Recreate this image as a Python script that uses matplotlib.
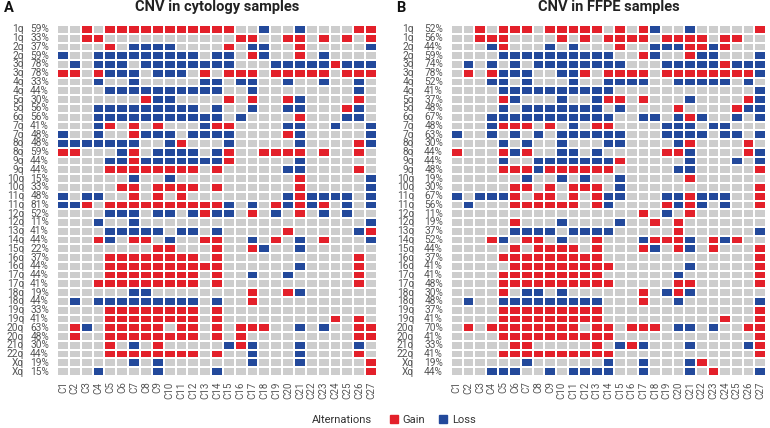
import matplotlib
matplotlib.use('Agg')
import matplotlib.pyplot as plt
import numpy as np
from matplotlib.colors import ListedColormap
from matplotlib.lines import Line2D
import matplotlib.transforms as mtransforms

plt.rcParams['font.family'] = ['Roboto', 'DejaVu Sans']

row_labels = ['1q', '1q', '2q', '2q', '3q', '3q', '4q', '4q', '5q', '5q', '6q', '7q', '7q',
              '8q', '8q', '9q', '9q', '10q', '10q', '11q', '11q', '12q', '12q', '13q', '14q',
              '15q', '16q', '16q', '17q', '17q', '18q', '18q', '19q', '19q', '20q', '20q',
              '21q', '22q', 'Xq', 'Xq']
col_labels = [f'C{i}' for i in range(1, 28)]

pct_cytology = [59, 33, 37, 59, 78, 78, 33, 44, 30, 56, 56, 41, 48, 48, 59, 44, 44, 15, 33, 48,
                81, 52, 11, 41, 44, 22, 37, 44, 44, 41, 19, 44, 33, 41, 63, 48, 30, 44, 19, 15]
pct_ffpe = [52, 56, 44, 59, 74, 78, 52, 41, 37, 48, 67, 48, 63, 30, 44, 44, 48, 19, 30, 67,
            56, 11, 19, 37, 52, 44, 37, 41, 41, 48, 30, 48, 37, 41, 70, 41, 33, 41, 19, 44]

# G = gain (column indices 0..26), L = loss
cytology_cells = [
    "G:2,4-14,25,26 L:17,20",
    "G:2,3,15,16,19,20,22,24,26",
    "G:4,14,20 L:6-9,16,17,26",
    "G:16,20 L:0,3-11,13,14,17,22",
    "G:23 L:1,3-5,7-14,18-22,24-26",
    "G:0,1,3,12,14-16,18-22,24-26 L:4-6,8-10",
    "L:3,6,12,13,15,16,19,22,25",
    "L:4-13,16,25",
    "G:7,14,16,19,25 L:8,9,20",
    "G:24 L:3-11,13,16,19,20,25",
    "G:20 L:3-13,15,24,25",
    "G:4,6,8,13,14 L:3,12,19,20,23,26",
    "G:6,19 L:0,3,7-9,11-14,20,26",
    "G:10,25 L:0-6,9,14,20,26",
    "G:0,1,6,14,17-20,22,25 L:5,8-11,13",
    "G:6,14 L:4,5,7-13,20",
    "G:4-11,13,25 L:19,20",
    "G:20 L:6,9,26",
    "G:5,6,8-11,13,20 L:26",
    "G:6,8,10,20 L:0,2,3,19,21-24,26",
    "G:2,4-13,18,20,22 L:0,1,14,16,19,21,24,26",
    "G:12,16,20 L:4-6,8,9,11,13,14,18,22,24",
    "L:3,6,26",
    "G:19,26 L:4-8,10,11,13,25",
    "G:3,6,7,12,13,18,22 L:4,9,16,20,26",
    "G:8,9,13,16 L:17,20",
    "G:4-11,13,25",
    "G:4-13,25 L:20",
    "G:4-11,13,25 L:16,19",
    "G:3-11,13,25",
    "G:16,19 L:6,7,20",
    "G:16 L:1,3-11,13",
    "G:4-11,13",
    "G:4-11,13,23,25",
    "G:1,4-8,10,11,13,15-17,25,26 L:2,20,22",
    "G:1,4-11,13,15,25,26",
    "G:4,8,15 L:6,14,16,20,25",
    "G:4-11,13,25 L:16,20",
    "G:26 L:6,8,16,20",
    "G:26 L:3,8,13",
]

ffpe_cells = [
    "G:2,4-6,8-12,14,16,26 L:17,20",
    "G:2-4,9,11,13-16,18-21,23,24",
    "G:4,14,20,21,23 L:3,8,10,17-19,22",
    "G:16,20 L:4-13,17,21,22,26",
    "G:23 L:1,3,5,7-14,18-22,24-26",
    "G:1,3,11,13-16,18-25 L:4-6,9,10,26",
    "L:3,4,6,10,13-16,19-23,25",
    "L:4-13,26",
    "G:4,13,14,16,25 L:5,9,12,20,26",
    "G:19,24 L:4,6-12,14,25,26",
    "G:20 L:3-13,16,17,19,21,24,26",
    "G:4-6,8,12,13 L:3,10,18-20,22,23",
    "L:0,3,5,7,9-14,18-21,23,24,26",
    "G:20,25 L:4,6,9,13,14,19",
    "G:0,4,6,18,19,25 L:5,9,10,12,20,26",
    "G:14 L:4,7-13,20,24,26",
    "G:4-6,8-13,26 L:7,19,20",
    "G:20 L:6,9,11,14",
    "G:5,6,8,10-12,26 L:14",
    "G:5,7,8,10,12,20,26 L:0,2-4,13,14,18,19,21-23",
    "G:5-10,12,18,20,26 L:1,13,19,21,23",
    "G:16,20 L:18",
    "G:5,17,19 L:9,14",
    "G:19 L:5-8,10-13,26",
    "G:3,6,7,12,17-19,22,24 L:4,9,16,20,23",
    "G:5,7-10,12,16,19,22,26 L:17,20",
    "G:4-12,26",
    "G:5-13,26 L:20",
    "G:4-12,26 L:19",
    "G:4-13,19,20,26",
    "G:4,16,19 L:6,7,9,18,20",
    "G:16 L:1,4-12,19,26",
    "G:4-12,26",
    "G:4-12,23,26",
    "G:1,3-10,12,13,15-17,25,26 L:19,20,22",
    "G:4-13,26",
    "G:5,6,12,15,26 L:14,16,20,25",
    "G:4-13,26",
    "G:21 L:6,13,16,20",
    "G:22 L:3-5,8,10-13,16,20,26",
]

GRAY, RED, BLUE = '#CDCDCD', '#E3202A', '#23499B'
TXT = '#555555'


def build(specs, ncol=27):
    m = np.zeros((len(specs), ncol))
    for r, spec in enumerate(specs):
        for part in spec.split():
            kind, idx = part.split(':')
            val = 1 if kind == 'G' else 2
            for tok in idx.split(','):
                if '-' in tok:
                    a, b = map(int, tok.split('-'))
                    cols = range(a, b + 1)
                else:
                    cols = [int(tok)]
                for c in cols:
                    m[r, c] = val
    return m


W, H = 770, 428
fig = plt.figure(figsize=(W / 100, H / 100), dpi=100)
cmap = ListedColormap([GRAY, RED, BLUE])


def panel(left_px, right_px, specs, pcts, title, letter, letter_x, lab_x, pct_x):
    top_px, bot_px = 25, 376
    ax = fig.add_axes([left_px / W, 1 - bot_px / H, (right_px - left_px) / W, (bot_px - top_px) / H])
    m = build(specs)
    nr, nc = m.shape
    ax.pcolormesh(np.arange(nc + 1), np.arange(nr + 1), m, cmap=cmap, vmin=-0.5, vmax=2.5,
                  edgecolors='white', linewidth=1.1)
    ax.set_xlim(0, nc)
    ax.set_ylim(nr, 0)
    for s in ax.spines.values():
        s.set_visible(False)
    ax.set_yticks([])
    ax.set_xticks(np.arange(nc) + 0.5)
    ax.set_xticklabels(col_labels, rotation=90, fontsize=7, color=TXT)
    ax.tick_params(axis='x', length=0, pad=4)
    width = right_px - left_px
    trans = mtransforms.blended_transform_factory(ax.transAxes, ax.transData)
    for i, (lab, p) in enumerate(zip(row_labels, pcts)):
        ax.text((lab_x - left_px) / width, i + 0.5, lab, transform=trans, ha='right', va='center',
                fontsize=7.3, color=TXT)
        ax.text((pct_x - left_px) / width, i + 0.5, f'{p}%', transform=trans, ha='right', va='center',
                fontsize=7.3, color=TXT)
    fig.text((left_px + right_px) / 2 / W, 1 - 7.5 / H, title, ha='center', va='center',
             fontsize=10.5, fontweight='bold', color='#222222')
    fig.text(letter_x / W, 1 - 7.5 / H, letter, ha='left', va='center', fontsize=10.5,
             fontweight='bold', color='#111111')
    return ax


panel(57, 377, cytology_cells, pct_cytology, 'CNV in cytology samples', 'A', 4, 24, 49)
panel(451, 766, ffpe_cells, pct_ffpe, 'CNV in FFPE samples', 'B', 396, 414, 443)

fig.text(372 / W, 1 - 420 / H, 'Alternations', ha='right', va='center', fontsize=8, color='#333333')
handles = [Line2D([], [], marker='s', ls='', color=RED, markersize=6),
           Line2D([], [], marker='s', ls='', color=BLUE, markersize=6)]
fig.legend(handles, ['Gain', 'Loss'], ncol=2, loc='center left',
           bbox_to_anchor=(377 / W, 1 - 420 / H), frameon=False, fontsize=8,
           handletextpad=0.2, columnspacing=1.0, handlelength=1.2, labelcolor='#333333')

fig.savefig('out.png', dpi=100)
